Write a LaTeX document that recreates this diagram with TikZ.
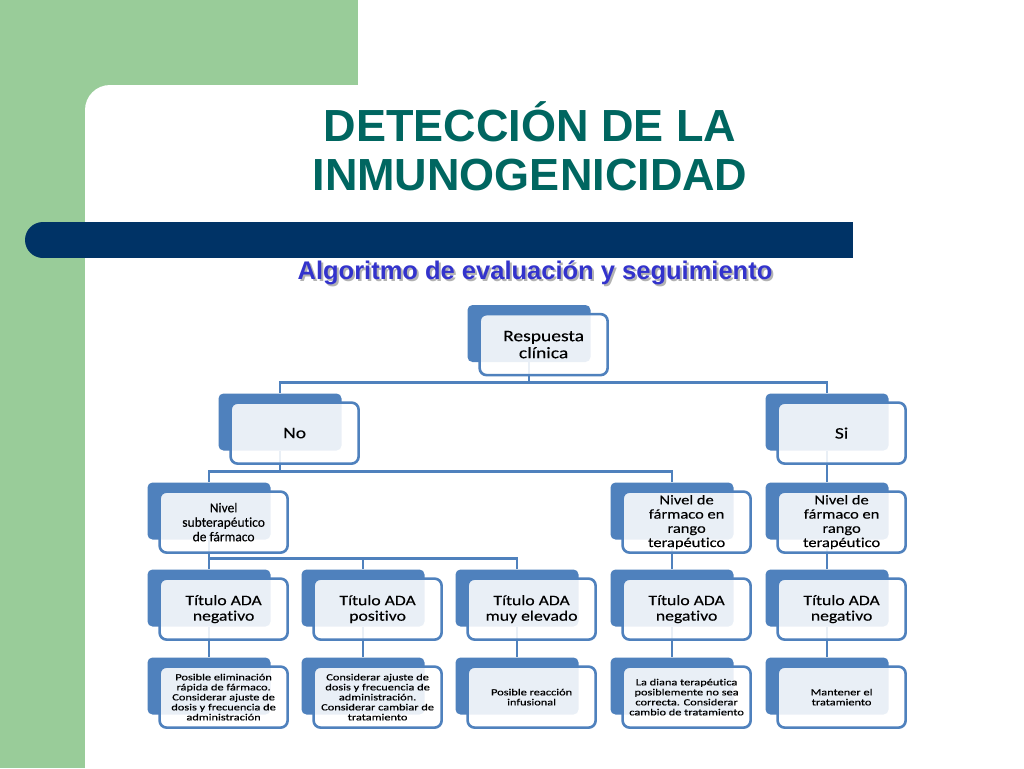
\documentclass[tikz,border=0pt]{standalone}
\usepackage{fontspec}
\setmainfont{Liberation Sans}
\newfontfamily\boxfont[FakeStretch=1.22, FakeBold=0.25, Ligatures=NoCommon]{Carlito}
\newfontfamily\boxfontnarrow[FakeStretch=1.0, FakeBold=0.25, Ligatures=NoCommon]{Carlito}
\newfontfamily\boxfontwide[FakeStretch=1.3, FakeBold=0.5, Ligatures=NoCommon]{Carlito}
\usetikzlibrary{positioning}

\definecolor{slidegreen}{RGB}{153,204,153}
\definecolor{barblue}{RGB}{0,51,102}
\definecolor{titleteal}{RGB}{0,102,96}
\definecolor{subviolet}{RGB}{51,51,204}
\definecolor{chartblue}{RGB}{79,129,189}

\tikzset{
  backbox/.style={fill=chartblue, rounded corners=5pt, minimum width=123pt, minimum height=57pt, inner sep=0pt},
  frontbox/.style={draw=chartblue, line width=2.6pt, fill=white, fill opacity=.88, text opacity=1,
    rounded corners=7pt, minimum width=128pt, minimum height=61pt, inner sep=1pt, align=center,
    below right=8pt and 11pt of #1.north west},
  link/.style={draw=chartblue, line width=2.8pt},
  bigtext/.style={font=\boxfont\fontsize{16}{17}\selectfont},
  midtext/.style={font=\boxfont\fontsize{14.5}{15.5}\selectfont},
  leveltext/.style={font=\boxfont\fontsize{13.5}{14.2}\selectfont},
  smalltext/.style={font=\boxfontwide\fontsize{9.5}{10}\selectfont},
  titletext/.style={font=\bfseries\fontsize{45}{48}\selectfont, text=titleteal, anchor=base},
  subtext/.style={font=\bfseries\fontsize{25.5}{28}\selectfont, anchor=base},
}

\begin{document}
\begin{tikzpicture}[x=1pt, y=-1pt]

\useasboundingbox (0,0) rectangle (1024,768);
\clip (0,0) rectangle (1024,768);

% slide background
\fill[slidegreen] (0,0) rectangle (1024,768);
\fill[white, rounded corners=25pt] (85,85) rectangle (1100,900);
\fill[white] (358,0) rectangle (1024,85);

% title and bar
\node[titletext] (title1) at (530,141) {DETECCIÓN DE LA};
\node[titletext] (title2) at (530,190) {INMUNOGENICIDAD};
\fill[barblue] (43,222) rectangle (853,258);
\fill[barblue] (43,240) circle (18pt);
\node[subtext, text=black!30] (subshadow) at (537,281) {Algoritmo de evaluación y seguimiento};
\node[subtext, text=subviolet] (subtitle) at (535,279) {Algoritmo de evaluación y seguimiento};

% back boxes
\node[backbox] (resp) at (529,333.5) {};
\node[backbox] (no) at (280,422) {};
\node[backbox] (si) at (827,422) {};
\node[backbox] (nivsub) at (209,511) {};
\node[backbox] (nivrango) at (672,511) {};
\node[backbox] (nivsi) at (827,511) {};
\foreach \col/\cx in {1/209, 2/363, 3/517, 4/672, 5/827} {
  \node[backbox] (ada\col) at (\cx,598) {};
  \node[backbox] (acc\col) at (\cx,686) {};
}

% connectors
\draw[link] (resp.south) -- ++(0,20) -| (no.north);
\draw[link] (resp.south) -- ++(0,20) -| (si.north);
\draw[link] (no.south) -- ++(0,21) -| (nivsub.north);
\draw[link] (no.south) -- ++(0,21) -| (nivrango.north);
\draw[link] (si.south) -- (nivsi.north);
\foreach \col in {1,2,3}
  \draw[link] (nivsub.south) -- ++(0,19) -| (ada\col.north);
\draw[link] (nivrango.south) -- (ada4.north);
\draw[link] (nivsi.south) -- (ada5.north);
\foreach \col in {1,...,5}
  \draw[link] (ada\col.south) -- (acc\col.north);

% front boxes
\node[frontbox=resp, bigtext] (resp-t) {Respuesta\\clínica};
\node[frontbox=no, bigtext] (no-t) {No};
\node[frontbox=si, bigtext] (si-t) {Si};
\node[frontbox=nivsub, font=\boxfontnarrow\fontsize{13.5}{14.5}\selectfont] (nivsub-t) {Nivel\\subterapéutico\\de fármaco};
\node[frontbox=nivrango, leveltext] (nivrango-t) {Nivel de\\fármaco en\\rango\\terapéutico};
\node[frontbox=nivsi, leveltext] (nivsi-t) {Nivel de\\fármaco en\\rango\\terapéutico};
\node[frontbox=ada1, midtext] (ada1-t) {Título ADA\\negativo};
\node[frontbox=ada2, midtext] (ada2-t) {Título ADA\\positivo};
\node[frontbox=ada3, midtext] (ada3-t) {Título ADA\\muy elevado};
\node[frontbox=ada4, midtext] (ada4-t) {Título ADA\\negativo};
\node[frontbox=ada5, midtext] (ada5-t) {Título ADA\\negativo};
\node[frontbox=acc1, smalltext] (acc1-t) {Posible eliminación\\rápida de fármaco.\\Considerar ajuste de\\dosis y frecuencia de\\administración};
\node[frontbox=acc2, smalltext] (acc2-t) {Considerar ajuste de\\dosis y frecuencia de\\administración.\\Considerar cambiar de\\tratamiento};
\node[frontbox=acc3, smalltext] (acc3-t) {Posible reacción\\infusional};
\node[frontbox=acc4, smalltext] (acc4-t) {La diana terapéutica\\posiblemente no sea\\correcta. Considerar\\cambio de tratamiento};
\node[frontbox=acc5, smalltext] (acc5-t) {Mantener el\\tratamiento};

\end{tikzpicture}
\end{document}
